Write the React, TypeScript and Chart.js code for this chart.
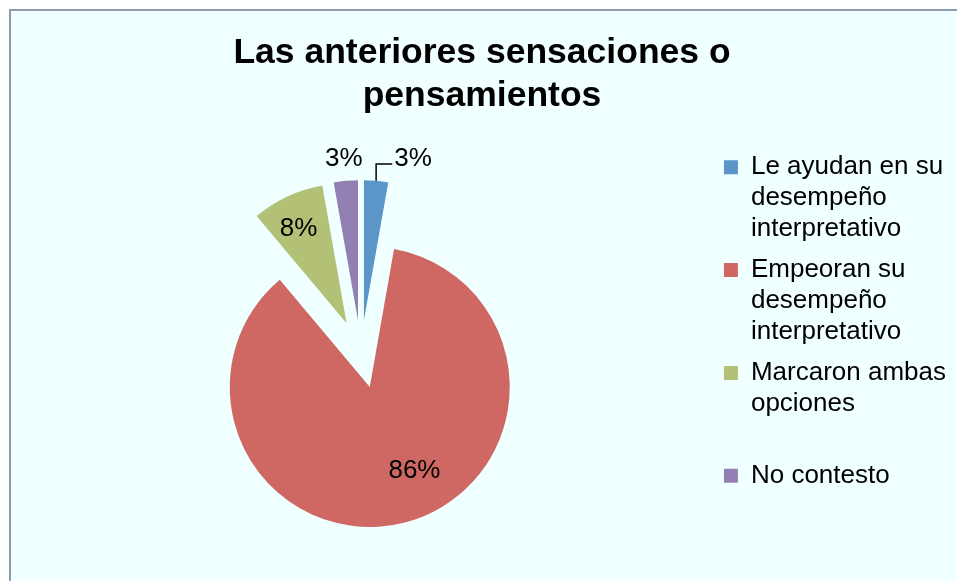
import React, { useEffect, useRef } from 'react';
import { Chart, registerables } from 'chart.js';

Chart.register(...registerables);

const TITLE_LINES = ['Las anteriores sensaciones o', 'pensamientos'];
const CATEGORIES = [
  'Le ayudan en su desempeño interpretativo',
  'Empeoran su desempeño interpretativo',
  'Marcaron ambas opciones',
  'No contesto',
];
const LEGEND_LINES = [
  ['Le ayudan en su', 'desempeño', 'interpretativo'],
  ['Empeoran su', 'desempeño', 'interpretativo'],
  ['Marcaron ambas', 'opciones', ''],
  ['No contesto'],
];
const COUNTS = [1, 31, 3, 1];
const COLORS = ['#5A96C8', '#CF6862', '#B2C176', '#9380B3'];

const LABEL_MODE = ['leader', 'inside', 'inside', 'outside'];
const LABEL_RADIUS = [0, 0.68, 0.755, 0];
const LABEL_ANGLE_NUDGE = [0, -13, -2, 0];
const EXPLODE = 34;
const PIE_RADIUS = 140;
const OUTSIDE_GAP = 22;
const LEADER_SHIFT = 35;

const FONT = '"Liberation Sans", Arial, Helvetica, sans-serif';

const explodePlugin = {
  id: 'explodeSlices',
  afterDatasetsUpdate(chart: any) {
    const meta = chart.getDatasetMeta(0);
    meta.data.forEach((arc: any) => {
      const mid = (arc.startAngle + arc.endAngle) / 2;
      arc.x += Math.cos(mid) * EXPLODE;
      arc.y += Math.sin(mid) * EXPLODE;
    });
  },
};

const labelPlugin = {
  id: 'sliceLabels',
  afterDatasetsDraw(chart: any) {
    const ctx = chart.ctx as CanvasRenderingContext2D;
    const meta = chart.getDatasetMeta(0);
    const total = COUNTS.reduce((a, b) => a + b, 0);
    ctx.save();
    ctx.font = `26px ${FONT}`;
    ctx.fillStyle = '#000';
    ctx.strokeStyle = '#000';
    ctx.lineWidth = 1.5;
    ctx.textAlign = 'center';
    ctx.textBaseline = 'middle';
    meta.data.forEach((arc: any, i: number) => {
      const text = Math.round((COUNTS[i] / total) * 100) + '%';
      const baseMid = (arc.startAngle + arc.endAngle) / 2;
      const mid = baseMid + (LABEL_ANGLE_NUDGE[i] * Math.PI) / 180;
      const r = arc.outerRadius;
      const mode = LABEL_MODE[i];
      if (mode === 'inside') {
        const d = r * LABEL_RADIUS[i];
        ctx.fillText(text, arc.x + Math.cos(mid) * d, arc.y + Math.sin(mid) * d);
        return;
      }
      const d = r + OUTSIDE_GAP;
      let x = arc.x + Math.cos(mid) * d;
      const y = arc.y + Math.sin(mid) * d;
      if (mode === 'leader') {
        const ex = arc.x + Math.cos(baseMid) * r;
        const ey = arc.y + Math.sin(baseMid) * r;
        x += LEADER_SHIFT;
        const w = ctx.measureText(text).width;
        ctx.beginPath();
        ctx.moveTo(ex, ey);
        ctx.lineTo(ex, y + 5);
        ctx.lineTo(x - w / 2 - 2, y + 5);
        ctx.stroke();
      }
      ctx.fillText(text, x, y);
    });
    ctx.restore();
  },
};

export default function App() {
  const canvasRef = useRef<HTMLCanvasElement | null>(null);

  useEffect(() => {
    if (!canvasRef.current) return;
    Chart.defaults.font.family = FONT;
    const chart = new Chart(canvasRef.current, {
      type: 'pie',
      data: {
        labels: CATEGORIES,
        datasets: [
          {
            data: COUNTS,
            backgroundColor: COLORS,
            borderWidth: 0,
            radius: PIE_RADIUS,
          } as any,
        ],
      },
      options: {
        responsive: false,
        animation: false,
        events: [],
        layout: { padding: { left: 8, right: 1, top: 0, bottom: 17 } },
        plugins: {
          title: {
            display: true,
            text: TITLE_LINES,
            color: '#000',
            font: { size: 35.5, weight: 'bold', lineHeight: 1.215, family: FONT },
            padding: { top: 32, bottom: 26 },
          },
          legend: {
            display: true,
            position: 'right',
            align: 'start',
            fullSize: false,
            labels: {
              color: '#000',
              font: { size: 26, lineHeight: 1.19, family: FONT },
              boxWidth: 14,
              boxHeight: 14,
              padding: 10,
              generateLabels: () =>
                LEGEND_LINES.map((lines, i) => ({
                  text: lines as any,
                  fillStyle: COLORS[i],
                  strokeStyle: COLORS[i],
                  lineWidth: 0,
                  hidden: false,
                  index: i,
                  fontColor: '#000',
                })) as any,
            },
          },
          tooltip: { enabled: false },
        },
      } as any,
      plugins: [explodePlugin, labelPlugin],
    });
    return () => chart.destroy();
  }, []);

  return (
    <div
      style={{
        position: 'fixed',
        left: 0,
        top: 0,
        width: 957,
        height: 581,
        background: '#fff',
        overflow: 'hidden',
      }}
    >
      <div
        style={{
          position: 'absolute',
          left: 9,
          top: 9,
          width: 1000,
          height: 1000,
          borderLeft: '2px solid #8D9AAF',
          borderTop: '2px solid #8D9AAF',
          background: '#F0FFFF',
        }}
      />
      <canvas
        ref={canvasRef}
        width={957}
        height={581}
        style={{ position: 'absolute', left: 0, top: 0 }}
      />
    </div>
  );
}
